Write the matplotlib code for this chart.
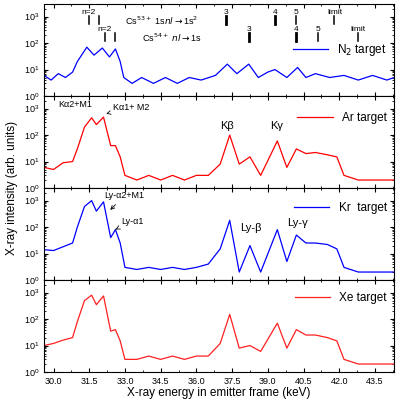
import numpy as np
import matplotlib
matplotlib.use('Agg')
import matplotlib.pyplot as plt

plt.rcParams['font.family'] = ['Liberation Sans', 'DejaVu Sans']

# spectra as (energy keV, intensity) knots
n2_e = [29.6, 29.9, 30.2, 30.5, 30.8, 31.0, 31.4, 31.7, 32.05, 32.35, 32.6, 32.8, 32.95, 33.3, 33.7, 34.2, 34.7,
        35.2, 35.7, 36.2, 36.8, 37.3, 37.7, 38.2, 38.6, 39.0, 39.3, 39.8, 40.25, 40.6, 41.0, 41.6, 42.2,
        42.8, 43.4, 44.0, 44.3]
n2_i = [6, 4, 7, 5, 8, 20, 70, 35, 65, 30, 60, 20, 5, 3, 5, 3, 5,
        3, 5, 4, 6, 16, 7, 16, 5, 8, 10, 5, 12, 5, 7, 5, 6,
        4, 6, 4, 5]

ar_e = [29.6, 30.0, 30.4, 30.8, 31.0, 31.3, 31.6, 31.8, 32.1, 32.4, 32.6, 32.8, 33.0, 33.5, 34.0, 34.5, 35.0,
        35.5, 36.0, 36.5, 37.0, 37.4, 37.8, 38.25, 38.7, 39.4, 39.8, 40.2, 40.6, 41.0, 41.5, 41.9, 42.2,
        42.8, 43.5, 44.3]
ar_i = [6, 5, 9, 10, 30, 200, 450, 250, 480, 40, 40, 15, 3, 2, 3, 2, 3,
        2, 3, 3, 8, 100, 8, 15, 3, 60, 6, 30, 20, 22, 18, 15, 3,
        2, 2, 2]

kr_e = [29.6, 30.0, 30.4, 30.8, 31.0, 31.3, 31.6, 31.8, 32.1, 32.4, 32.6, 32.8, 33.0, 33.5, 34.0, 34.5, 35.0,
        35.5, 36.0, 36.5, 37.0, 37.4, 37.8, 38.25, 38.7, 39.4, 39.8, 40.2, 40.6, 41.0, 41.5, 41.9, 42.2,
        42.8, 43.5, 44.3]
kr_i = [14, 13, 18, 25, 100, 600, 1000, 400, 900, 40, 80, 25, 3, 2.5, 3, 2.5, 3,
        2.5, 3, 4, 15, 180, 2, 20, 2, 80, 5, 50, 25, 25, 22, 15, 3,
        2, 2, 2]

xe_e = [29.6, 30.0, 30.4, 30.8, 31.0, 31.3, 31.6, 31.8, 32.1, 32.4, 32.6, 32.8, 33.0, 33.5, 34.0, 34.5, 35.0,
        35.5, 36.0, 36.5, 37.0, 37.4, 37.8, 38.25, 38.7, 39.4, 39.8, 40.2, 40.6, 41.0, 41.5, 41.9, 42.2,
        42.8, 43.5, 44.3]
xe_i = [10, 12, 16, 20, 80, 500, 800, 350, 750, 35, 40, 15, 3, 3, 4, 3, 4,
        3, 4, 4, 12, 150, 8, 10, 6, 70, 8, 40, 25, 25, 20, 15, 3,
        2, 2, 2]

panels = [(n2_e, n2_i, 'blue', 'N$_2$ target', 0.5),
          (ar_e, ar_i, 'red', 'Ar target', 0.76),
          (kr_e, kr_i, 'blue', 'Kr  target', 0.78),
          (xe_e, xe_i, '#ff2020', 'Xe target', 0.8)]

fig, axes = plt.subplots(4, 1, figsize=(4, 4), dpi=100, sharex=True)
fig.subplots_adjust(left=0.11, right=0.985, top=0.99, bottom=0.07, hspace=0)

for ax, (e, i, c, lab, ly) in zip(axes, panels):
    ax.plot(e, i, color=c, lw=0.9, label=lab)
    ax.set_yscale('log')
    ax.set_ylim(1, 3000)
    ax.set_xlim(29.6, 44.3)
    ax.set_yticks([1, 10, 100, 1000])
    ax.tick_params(labelsize=6.5, direction='in', which='both', right=True, top=True, length=3)
    ax.tick_params(which='minor', length=1.5)
    ax.legend(loc='center right', bbox_to_anchor=(1.0, ly), frameon=False, fontsize=8.5,
              handlelength=3, borderaxespad=0.2)

axes[-1].set_xticks(np.arange(30.0, 44.0, 1.5))
axes[-1].set_xticks(np.arange(30.0, 44.3, 0.75), minor=True)
axes[-1].xaxis.set_major_formatter(matplotlib.ticker.FormatStrFormatter('%.1f'))
axes[-1].set_xlabel('X-ray energy in emitter frame (keV)', fontsize=8.5, labelpad=1)
fig.text(0.015, 0.53, 'X-ray intensity (arb. units)', rotation=90, va='center', fontsize=8.5)

# N2 panel line markers
ax = axes[0]
tr = ax.get_xaxis_transform()
cs53 = [(31.48, 'n=2'), (31.9, ''), (37.25, '3'), (39.3, '4'), (40.2, '5'), (41.8, 'limit')]
cs54 = [(32.15, 'n=2'), (32.57, ''), (38.2, '3'), (40.2, '4'), (41.1, '5'), (42.8, 'limit')]
for x, t in cs53:
    ax.plot([x, x], [0.78, 0.87], color='k', lw=2 if t in ('3', '4') else 1.1, transform=tr)
    if t:
        ax.text(x, 0.89, t, ha='center', fontsize=6, transform=tr)
for x, t in cs54:
    ax.plot([x, x], [0.6, 0.69], color='k', lw=2 if t in ('3', '4') else 1.1, transform=tr)
    if t:
        ax.text(x, 0.71, t, ha='center', fontsize=6, transform=tr)
ax.text(33.0, 0.82, 'Cs$^{53+}$ 1s$nl$$\\rightarrow$1s$^2$', fontsize=6.5, va='center', transform=tr)
ax.text(33.7, 0.63, 'Cs$^{54+}$ $nl$$\\rightarrow$1s', fontsize=6.5, va='center', transform=tr)

ax = axes[1]
tr = ax.get_xaxis_transform()
ax.text(30.2, 0.91, 'Kα2+M1', fontsize=6.5, va='center', transform=tr)
ax.annotate('Kα1+ M2', xy=(32.1, 0.8), xytext=(32.5, 0.88), xycoords=tr, textcoords=tr,
            fontsize=6.5, va='center', arrowprops=dict(arrowstyle='->', lw=0.6))
ax.text(37.0, 0.67, 'Kβ', fontsize=8, va='center', transform=tr)
ax.text(39.1, 0.67, 'Kγ', fontsize=8, va='center', transform=tr)

ax = axes[2]
tr = ax.get_xaxis_transform()
ax.annotate('Ly-α2+M1', xy=(32.3, 0.74), xytext=(32.15, 0.92), xycoords=tr, textcoords=tr,
            fontsize=6.5, va='center', arrowprops=dict(arrowstyle='->', lw=0.6))
ax.annotate('Ly-α1', xy=(32.6, 0.55), xytext=(32.85, 0.64), xycoords=tr, textcoords=tr,
            fontsize=6.5, va='center', arrowprops=dict(arrowstyle='->', lw=0.6))
ax.text(37.85, 0.57, 'Ly-β', fontsize=8, va='center', transform=tr)
ax.text(39.8, 0.62, 'Ly-γ', fontsize=8, va='center', transform=tr)

fig.savefig('out.png', dpi=100)
